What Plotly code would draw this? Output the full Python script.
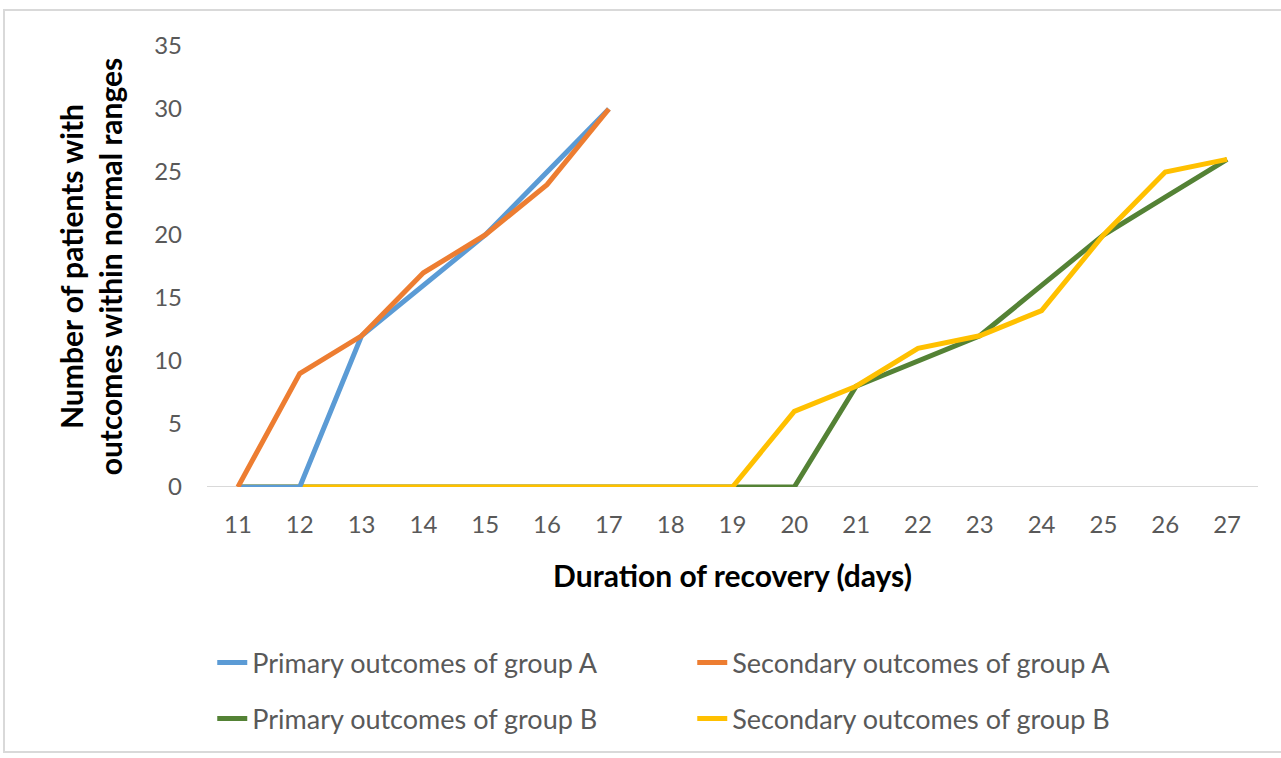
import plotly.graph_objects as go

days_a = [11, 12, 13, 14, 15, 16, 17]
primary_a = [0, 0, 12, 16, 20, 25, 30]
secondary_a = [0, 9, 12, 17, 20, 24, 30]

days_b = [11, 12, 13, 14, 15, 16, 17, 18, 19, 20, 21, 22, 23, 24, 25, 26, 27]
primary_b = [0, 0, 0, 0, 0, 0, 0, 0, 0, 0, 8, 10, 12, 16, 20, 23, 26]
secondary_b = [0, 0, 0, 0, 0, 0, 0, 0, 0, 6, 8, 11, 12, 14, 20, 25, 26]

tick_days = list(range(11, 28))
y_ticks = [0, 5, 10, 15, 20, 25, 30, 35]

FONT = "Lato, Carlito, 'Open Sans', sans-serif"
GREY = "#595959"

fig = go.Figure()
fig.add_trace(go.Scatter(x=days_b, y=primary_b, mode="lines", name="Primary outcomes of group B",
                         line=dict(color="#548235", width=5), legend="legend2"))
fig.add_trace(go.Scatter(x=days_b, y=secondary_b, mode="lines", name="Secondary outcomes of group B",
                         line=dict(color="#FFC000", width=5), legend="legend2"))
fig.add_trace(go.Scatter(x=days_a, y=primary_a, mode="lines", name="Primary outcomes of group A",
                         line=dict(color="#5B9BD5", width=5), legend="legend"))
fig.add_trace(go.Scatter(x=days_a, y=secondary_a, mode="lines", name="Secondary outcomes of group A",
                         line=dict(color="#ED7D31", width=5), legend="legend"))

legend_common = dict(orientation="h", font=dict(family=FONT, size=27, color=GREY),
                     entrywidth=435, entrywidthmode="pixels", xanchor="left", yanchor="middle",
                     bgcolor="rgba(0,0,0,0)", traceorder="normal")

fig.update_layout(
    width=1281, height=758,
    margin=dict(l=207, r=23, t=46, b=271),
    paper_bgcolor="white", plot_bgcolor="white",
    font=dict(family=FONT, color=GREY),
    showlegend=True,
    legend=dict(x=0.005, y=(487 - 663) / 441, **legend_common),
    legend2=dict(x=0.005, y=(487 - 719) / 441, **legend_common),
    xaxis=dict(
        range=[10.5, 27.5], tickmode="array", tickvals=tick_days,
        ticktext=[str(d) for d in tick_days],
        showgrid=False, zeroline=False, showline=False, ticks="",
        tickfont=dict(family=FONT, size=24, color=GREY),
        ticklabelstandoff=21,
        title=dict(text="<b>Duration of recovery (days)</b>", standoff=28,
                   font=dict(family=FONT, size=30, color="black")),
    ),
    yaxis=dict(
        range=[0, 35], tickmode="array", tickvals=y_ticks,
        showgrid=False, zeroline=False, showline=False, ticks="",
        tickfont=dict(family=FONT, size=24, color=GREY),
        ticklabelstandoff=24,
        title=dict(text="<b>Number of patients with<br>outcomes within normal ranges</b>", standoff=22,
                   font=dict(family=FONT, size=30, color="black")),
    ),
    shapes=[
        dict(type="line", xref="x", yref="y", x0=10.5, x1=27.5, y0=0, y1=0,
             line=dict(color="#D9D9D9", width=2), layer="below"),
        dict(type="rect", xref="paper", yref="paper",
             x0=(4 - 207) / 1051, x1=(1290 - 207) / 1051,
             y0=(487 - 752) / 441, y1=(487 - 10) / 441,
             line=dict(color="#D9D9D9", width=2), layer="below"),
    ],
)

fig.write_html("out.html", config={"displayModeBar": False},
               post_script="document.body.style.margin='0';document.body.style.overflow='hidden';")
